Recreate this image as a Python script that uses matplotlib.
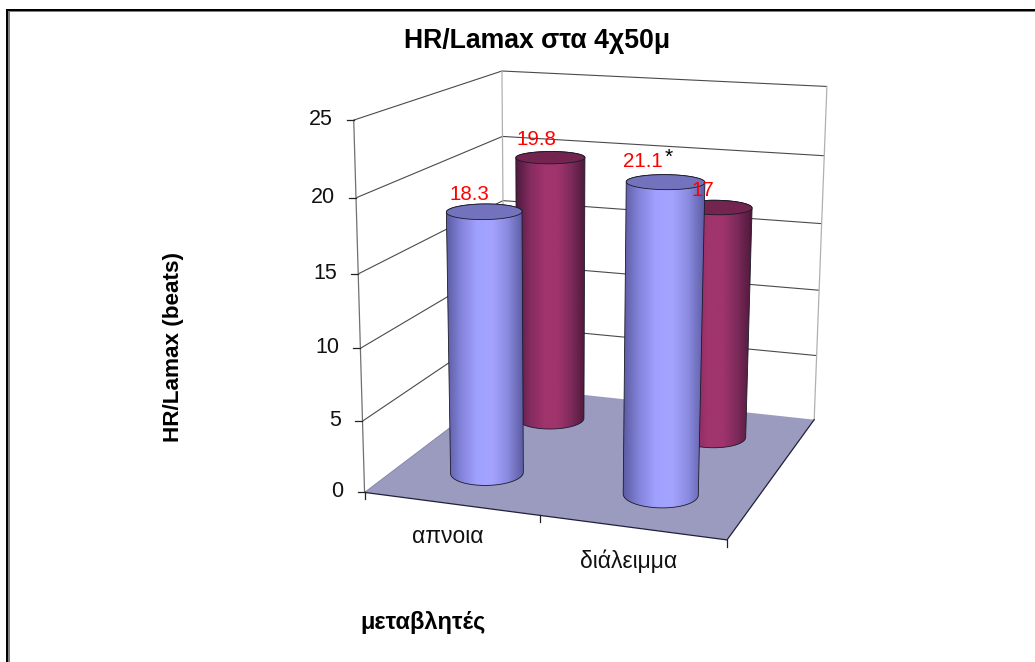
import numpy as np
import matplotlib
matplotlib.use("Agg")
import matplotlib.pyplot as plt
from matplotlib.colors import LinearSegmentedColormap
from matplotlib.patches import Polygon, Rectangle

plt.rcParams['font.family'] = ['Liberation Sans', 'DejaVu Sans']

# ---- data ----
categories = ['απνοια', 'διάλειμμα']
series_a = [18.3, 21.1]
series_b = [19.8, 17.0]
value_labels_a = ['18.3', '21.1']
value_labels_b = ['19.8', '17']
y_ticks = [0, 5, 10, 15, 20, 25]
title = 'HR/Lamax στα 4χ50μ'
y_title = 'HR/Lamax (beats)'
x_title = 'μεταβλητές'

# ---- camera: world (x 0..2 categories, y 0..2 series depth, z value) to pixels ----
world = []
image = []
front_left = [(366, 492), (362, 422), (360, 348), (358, 273), (357, 197), (353, 121)]
back_left = [(504, 387), (504, 326), (503, 263), (503, 200), (503, 137), (502, 71)]
back_right = [(815, 418), (816, 356), (819, 291), (822, 224), (824, 156), (827, 86)]
for z, a, b, c in zip(y_ticks, front_left, back_left, back_right):
    world += [(0, 0, z), (0, 2, z), (2, 2, z)]
    image += [a, b, c]
world += [(1, 0, 0), (2, 0, 0)]
image += [(539, 516), (727, 540)]
rows, rhs = [], []
for (X, Y, Z), (u, v) in zip(world, image):
    rows.append([X, Y, Z, 1, 0, 0, 0, 0, -u * X, -u * Y, -u * Z])
    rhs.append(u)
    rows.append([0, 0, 0, 0, X, Y, Z, 1, -v * X, -v * Y, -v * Z])
    rhs.append(v)
sol = np.linalg.lstsq(np.array(rows, float), np.array(rhs, float), rcond=None)[0]
P = np.append(sol, 1).reshape(3, 4)


def proj(x, y, z):
    x, y, z = np.broadcast_arrays(np.asarray(x, float), np.asarray(y, float), np.asarray(z, float))
    h = P @ np.stack([x.ravel(), y.ravel(), z.ravel(), np.ones(x.size)])
    return h[0] / h[2], h[1] / h[2]


def hull(pts):
    pts = sorted(set(map(tuple, pts)))
    def half(seq):
        out = []
        for p in seq:
            while len(out) > 1 and ((out[-1][0] - out[-2][0]) * (p[1] - out[-2][1]) -
                                    (out[-1][1] - out[-2][1]) * (p[0] - out[-2][0])) <= 0:
                out.pop()
            out.append(p)
        return out[:-1]
    return np.array(half(pts) + half(pts[::-1]))


fig = plt.figure(figsize=(10.35, 6.62), dpi=100)
ax = fig.add_axes([0, 0, 1, 1])
ax.set_axis_off()

# frame
ax.add_patch(Rectangle((6, 9), 1030, 2.2, fc='black', ec='none', zorder=1))
ax.add_patch(Rectangle((8, 11), 1030, 1, fc='#808080', ec='none', zorder=1))
ax.add_patch(Rectangle((6, 9), 2.2, 660, fc='black', ec='none', zorder=1))
ax.add_patch(Rectangle((8, 11), 1.6, 660, fc='#808080', ec='none', zorder=1))

grid = dict(color='#4a4a4a', lw=0.8, zorder=2, solid_capstyle='butt')
edge = dict(color='#b0b0b0', lw=0.9, zorder=2)
zmax = y_ticks[-1]
for z in y_ticks[1:]:
    xs, ys = proj([0, 0, 2], [0, 2, 2], [z, z, z])
    ax.plot(xs, ys, **grid)
for c in [(0, 2), (2, 2)]:
    xs, ys = proj([c[0], c[0]], [c[1], c[1]], [0, zmax])
    ax.plot(xs, ys, **edge)
xs, ys = proj([0, 0], [0, 0], [0, zmax])
ax.plot(xs, ys, color='#707070', lw=0.9, zorder=2)

# floor
fx, fy = proj([0, 2, 2, 0], [0, 0, 2, 2], [0, 0, 0, 0])
ax.add_patch(Polygon(np.c_[fx, fy], fc='#9b9bc0', ec='none', zorder=3))
ax.plot(fx[:3], fy[:3], color='#20203a', lw=0.9, zorder=3)
ax.plot(fx[[3, 0]], fy[[3, 0]], color='#8080a8', lw=0.6, zorder=3)

# ticks and tick labels
for z in y_ticks:
    tx, ty = proj(0, 0, z)
    ax.plot([tx[0] - 7, tx[0]], [ty[0], ty[0]], color='#222222', lw=0.9, zorder=3)
    ax.text(tx[0] - 21, ty[0] - 0.5, str(z), ha='right', va='center', fontsize=15.5, color='#111111', zorder=8)
for c in [0, 1, 2]:
    tx, ty = proj(c, 0, 0)
    ax.plot([tx[0], tx[0]], [ty[0], ty[0] + 7], color='#222222', lw=0.9, zorder=3)

cmap_a = LinearSegmentedColormap.from_list('a', ['#5a5aa0', '#8484dc', '#a0a0ff', '#a4a4ff', '#8a8ae0', '#5c5ca4'])
cmap_b = LinearSegmentedColormap.from_list('b', ['#4e1a3e', '#842c60', '#a0346c', '#a0346c', '#7c2a5a', '#4a1838'])
grad = np.linspace(0, 1, 256).reshape(1, -1)
radius_x, radius_y = 0.2, 0.2
th = np.linspace(0, 2 * np.pi, 181)


def cylinder(cx, cy, value, cmap, top_color, z):
    bx, by = proj(cx + radius_x * np.cos(th), cy + radius_y * np.sin(th), 0 * th)
    tx, ty = proj(cx + radius_x * np.cos(th), cy + radius_y * np.sin(th), value + 0 * th)
    outline = hull(np.r_[np.c_[bx, by], np.c_[tx, ty]])
    patch = Polygon(outline, fc='none', ec='#1a1a2a', lw=0.6, zorder=z + 0.2)
    ax.add_patch(patch)
    im = ax.imshow(grad, cmap=cmap, aspect='auto', zorder=z,
                   extent=[outline[:, 0].min(), outline[:, 0].max(), outline[:, 1].max(), outline[:, 1].min()])
    im.set_clip_path(patch)
    ax.add_patch(Polygon(np.c_[tx, ty], fc=top_color, ec='#1a1a2a', lw=0.6, zorder=z + 0.3))
    return tx.mean(), ty.mean()


centers_b = [cylinder(c + 0.5, 1.5, v, cmap_b, '#73244f', 4) for c, v in enumerate(series_b)]
centers_a = [cylinder(c + 0.5, 0.5, v, cmap_a, '#7373bd', 5) for c, v in enumerate(series_a)]

# value labels
red = dict(color='#ff0000', fontsize=14.8, ha='center', va='center', zorder=9)
for (cx, cy), s, off in zip(centers_a, value_labels_a, [(-15, -17), (-23, -21)]):
    ax.text(cx + off[0], cy + off[1], s, **red)
for (cx, cy), s, off in zip(centers_b, value_labels_b, [(-14, -18), (-14, -17)]):
    ax.text(cx + off[0], cy + off[1], s, **red)
ax.text(centers_a[1][0] + 3, centers_a[1][1] - 25, '*', fontsize=15, ha='center', va='center', color='black', zorder=9)

# category labels
for c, s, off in zip([0.5, 1.5], categories, [(-3, 33), (-3, 34)]):
    tx, ty = proj(c, 0, 0)
    ax.text(tx[0] + off[0], ty[0] + off[1], s, fontsize=16.5, ha='center', va='center', color='#111111', zorder=8)

# titles
ax.text(537, 41, title, fontsize=19.2, fontweight='bold', ha='center', va='center', color='black')
ax.text(174, 347, y_title, fontsize=16.2, fontweight='bold', rotation=90, ha='center', va='center', color='black')
ax.text(423.5, 622, x_title, fontsize=17, fontweight='bold', ha='center', va='center', color='black')

ax.set_xlim(0, 1035)
ax.set_ylim(662, 0)
fig.savefig('out.png', dpi=100, facecolor='white')
